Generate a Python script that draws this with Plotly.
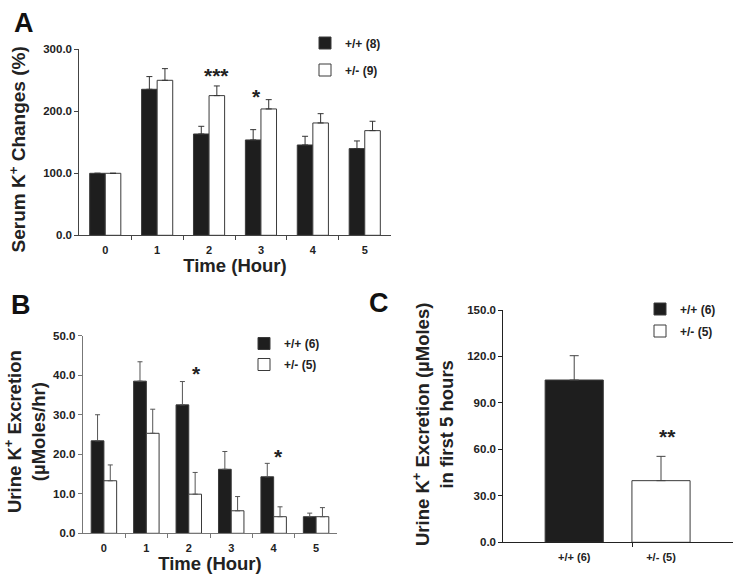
import plotly.graph_objects as go

W, H = 739, 584

# ---------------- data ----------------
hours = [0, 1, 2, 3, 4, 5]
hour_labels = ["0", "1", "2", "3", "4", "5"]

# Panel A: serum K+ changes (%)
serum_wt = [100.0, 235.5, 163.4, 153.8, 145.7, 139.8]
serum_wt_err = [0.0, 20.5, 12.4, 16.6, 14.0, 12.4]
serum_het = [100.0, 250.0, 225.3, 203.8, 181.2, 168.8]
serum_het_err = [0.0, 18.8, 15.6, 15.0, 15.0, 15.1]
serum_names = ["+/+ (8)", "+/- (9)"]
serum_stars = ["***", "*"]
serum_star_x = [2.14, 2.92]
serum_star_y = [262, 229]

# Panel B: urine K+ excretion (uMoles/hr)
urine_wt = [23.4, 38.5, 32.5, 16.2, 14.3, 4.2]
urine_wt_err = [6.6, 4.9, 5.9, 4.5, 3.4, 0.9]
urine_het = [13.3, 25.3, 9.9, 5.7, 4.2, 4.2]
urine_het_err = [4.0, 6.1, 5.5, 3.6, 2.5, 2.3]
urine_names = ["+/+ (6)", "+/- (5)"]
urine_stars = ["*", "*"]
urine_star_x = [2.19, 4.11]
urine_star_y = [41.3, 20.2]

# Panel C: total urine K+ excretion in first 5 hours (uMoles)
total_groups = ["+/+ (6)", "+/- (5)"]
total_vals = [104.8, 39.8]
total_err = [15.7, 15.7]
total_star = "**"
total_star_x = 1.08
total_star_y = 70.4

# ---------------- style ----------------
FONT = "Arial, 'Liberation Sans', sans-serif"
BLACK = "#1e1e1e"
EDGE = "#3a3a3a"


def xd(a, b):
    return [a / W, b / W]


def yd(top, bottom):
    return [1 - bottom / H, 1 - top / H]


fig = go.Figure()

# ---- Panel A ----
fig.add_trace(go.Bar(
    x=hours, y=serum_wt, name=serum_names[0], width=0.3, offset=-0.3,
    marker=dict(color=BLACK, line=dict(color=EDGE, width=1)),
    error_y=dict(type="data", symmetric=False, array=serum_wt_err,
                 arrayminus=[0] * len(hours), color="#333", thickness=1, width=3),
    xaxis="x", yaxis="y", legend="legend", legendgroup="a1"))
fig.add_trace(go.Bar(
    x=hours, y=serum_het, name=serum_names[1], width=0.3, offset=0,
    marker=dict(color="white", line=dict(color=EDGE, width=1)),
    error_y=dict(type="data", symmetric=False, array=serum_het_err,
                 arrayminus=[0] * len(hours), color="#333", thickness=1, width=3),
    xaxis="x", yaxis="y", legend="legend", legendgroup="a2"))

# ---- Panel B ----
fig.add_trace(go.Bar(
    x=hours, y=urine_wt, name=urine_names[0], width=0.3, offset=-0.3,
    marker=dict(color=BLACK, line=dict(color=EDGE, width=1)),
    error_y=dict(type="data", symmetric=False, array=urine_wt_err,
                 arrayminus=[0] * len(hours), color="#555", thickness=1, width=2.5),
    xaxis="x2", yaxis="y2", legend="legend2", legendgroup="b1"))
fig.add_trace(go.Bar(
    x=hours, y=urine_het, name=urine_names[1], width=0.3, offset=0,
    marker=dict(color="white", line=dict(color=EDGE, width=1)),
    error_y=dict(type="data", symmetric=False, array=urine_het_err,
                 arrayminus=[0] * len(hours), color="#555", thickness=1, width=2.5),
    xaxis="x2", yaxis="y2", legend="legend2", legendgroup="b2"))

# ---- Panel C ----
for i, col in enumerate([BLACK, "white"]):
    fig.add_trace(go.Bar(
        x=[i], y=[total_vals[i]], name=total_groups[i], width=0.67, offset=-0.335,
        marker=dict(color=col, line=dict(color=EDGE, width=1)),
        error_y=dict(type="data", symmetric=False, array=[total_err[i]],
                     arrayminus=[0], color="#444", thickness=1, width=4.5),
        xaxis="x3", yaxis="y3", legend="legend3", legendgroup="c%d" % i))

tickfont = dict(family=FONT, size=11.5, color="#222", weight="bold")
xtickfont = dict(family=FONT, size=11, color="#222", weight="bold")
titlefont = dict(family=FONT, size=18.5, color="#222", weight="bold")
legfont = dict(family=FONT, size=12, color="#222", weight="bold")


def xaxis_cfg(domain, anchor, rng, tickvals, ticktext, minor_vals, linecolor, title=None, standoff=4):
    d = dict(domain=domain, anchor=anchor, range=rng, tickmode="array",
             tickvals=tickvals, ticktext=ticktext, ticks="", showline=True,
             linecolor=linecolor, linewidth=1, showgrid=False, zeroline=False,
             tickfont=xtickfont, ticklabelstandoff=4, automargin=False,
             minor=dict(tickmode="array", tickvals=minor_vals, ticks="outside",
                        ticklen=4, tickcolor=linecolor, tickwidth=1, showgrid=False))
    if title:
        d["title"] = dict(text=title, font=titlefont, standoff=standoff)
    return d


def yaxis_cfg(domain, anchor, rng, tickvals, linecolor):
    return dict(domain=domain, anchor=anchor, range=rng, tickmode="array",
                tickvals=tickvals, tickformat=".1f", ticks="outside", ticklen=4,
                tickcolor=linecolor, showline=True, linecolor=linecolor, linewidth=1,
                showgrid=False, zeroline=False, tickfont=tickfont, automargin=False)


fig.update_layout(
    width=W, height=H, margin=dict(l=0, r=0, t=0, b=0, autoexpand=False),
    paper_bgcolor="white", plot_bgcolor="white", barmode="overlay",
    showlegend=True,
    xaxis=xaxis_cfg(xd(79.3, 390.7), "y", [-0.5, 5.5], hours, hour_labels,
                    [h + 0.5 for h in hours[:-1]], "#444", "Time (Hour)", 2),
    yaxis=yaxis_cfg(yd(49.3, 235.3), "x", [0, 300], [0, 100, 200, 300], "#444"),
    xaxis2=xaxis_cfg(xd(82.7, 337.3), "y2", [-0.5, 5.5], hours, hour_labels,
                     [h + 0.5 for h in hours[:-1]], "#777", "Time (Hour)", 4),
    yaxis2=yaxis_cfg(yd(335.7, 533.3), "x2", [0, 50], [0, 10, 20, 30, 40, 50], "#777"),
    xaxis3=xaxis_cfg(xd(503.3, 732.7), "y3", [-0.817, 1.826], [0, 1], total_groups,
                     [0.674], "#222"),
    yaxis3=yaxis_cfg(yd(310, 542.3), "x3", [0, 150], [0, 30, 60, 90, 120, 150], "#222"),
    legend=dict(x=305 / W, y=1 - 28.5 / H, xanchor="left", yanchor="top",
                bgcolor="rgba(0,0,0,0)", font=legfont, traceorder="grouped",
                tracegroupgap=8),
    legend2=dict(x=244 / W, y=1 - 329 / H, xanchor="left", yanchor="top",
                 bgcolor="rgba(0,0,0,0)", font=legfont, traceorder="grouped",
                 tracegroupgap=2),
    legend3=dict(x=640 / W, y=1 - 294.5 / H, xanchor="left", yanchor="top",
                 bgcolor="rgba(0,0,0,0)", font=legfont, traceorder="grouped",
                 tracegroupgap=3),
)

annotations = []

# y-axis titles (rotated text)
ytitles = [
    ("Serum K<sup>+</sup> Changes (%)", 17.5, 150, 19),
    ("Urine K<sup>+</sup> Excretion<br>(µMoles/hr)", 25, 432, 18.5),
    ("Urine K<sup>+</sup> Excretion (µMoles)<br>in first 5 hours", 433, 425, 18.5),
]
for t, tx, ty, fs in ytitles:
    annotations.append(dict(text=t, x=tx / W, y=1 - ty / H, xref="paper", yref="paper",
                            showarrow=False, textangle=-90, xanchor="center",
                            yanchor="middle",
                            font=dict(family=FONT, size=fs, color="#222", weight="bold")))

starfont = dict(family=FONT, size=21, color="#222", weight="bold")
for s, sx, sy in zip(serum_stars, serum_star_x, serum_star_y):
    annotations.append(dict(text=s, x=sx, y=sy, xref="x", yref="y", showarrow=False,
                            font=starfont, yanchor="middle", yshift=-3))
for s, sx, sy in zip(urine_stars, urine_star_x, urine_star_y):
    annotations.append(dict(text=s, x=sx, y=sy, xref="x2", yref="y2", showarrow=False,
                            font=starfont, yanchor="middle", yshift=-3))
annotations.append(dict(text=total_star, x=total_star_x, y=total_star_y, xref="x3",
                        yref="y3", showarrow=False, font=starfont, yanchor="middle",
                        yshift=-3))

letterfont = dict(family=FONT, size=27, color="#111", weight="bold")
for letter, lx, ly in [("A", 24, 22.5), ("B", 21, 305), ("C", 379, 302.5)]:
    annotations.append(dict(text=letter, x=lx / W, y=1 - ly / H, xref="paper",
                            yref="paper", showarrow=False, font=letterfont,
                            xanchor="center", yanchor="middle"))
fig.update_layout(annotations=annotations)

fig.write_html("out.html", config={"displayModeBar": False},
               post_script="document.body.style.margin='0px';"
                           "document.body.style.overflow='hidden';")
